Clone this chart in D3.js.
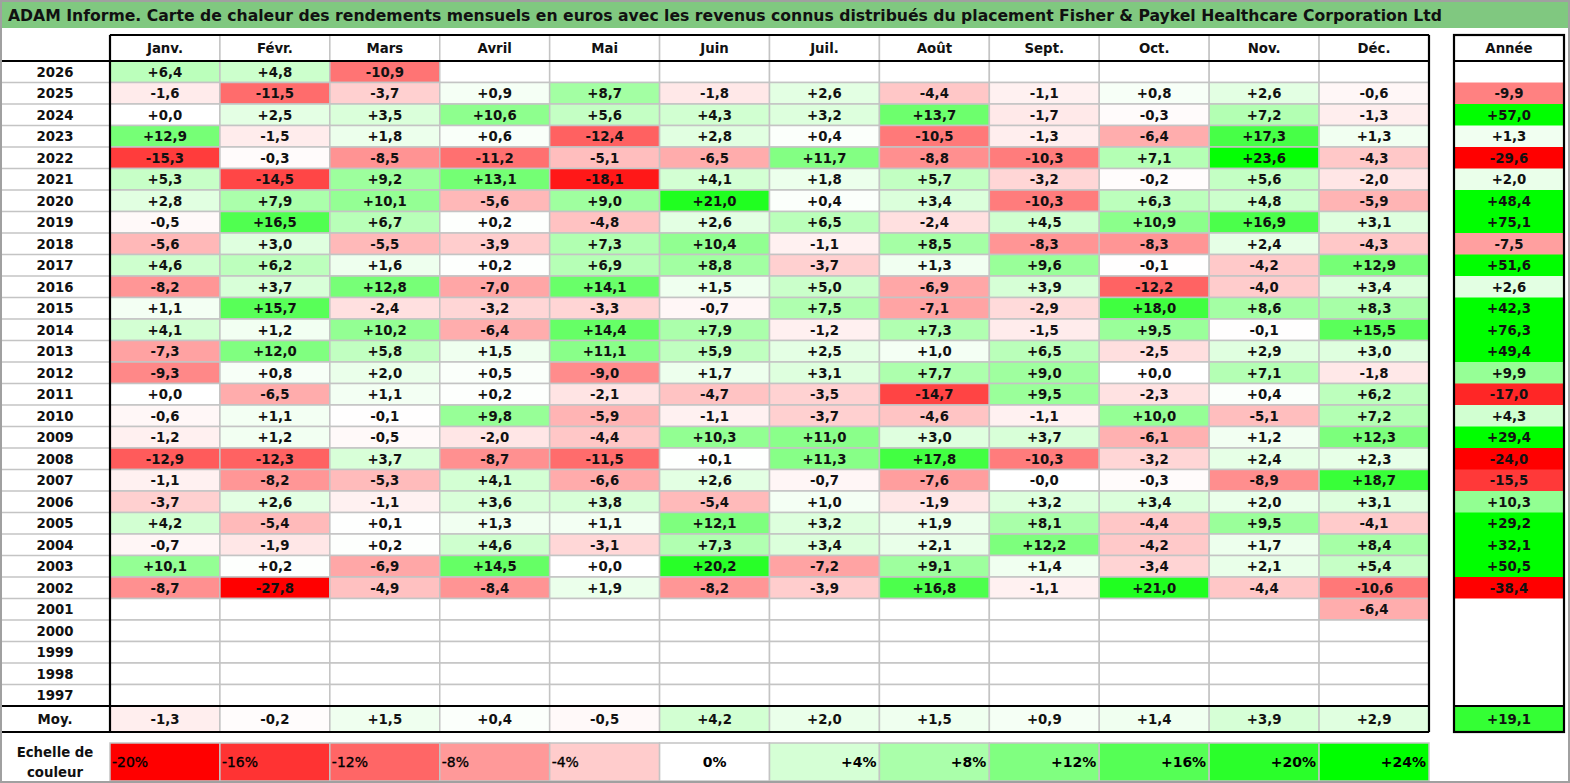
<!DOCTYPE html>
<html><head><meta charset="utf-8">
<script src="https://cdn.jsdelivr.net/npm/d3@7"></script>
<style>body{margin:0;background:#fff}svg{display:block}text{font-family:"DejaVu Sans",Verdana,sans-serif}</style>
</head><body>
<svg id="c" width="1570" height="783"></svg>
<script>
const title = "ADAM Informe. Carte de chaleur des rendements mensuels en euros avec les revenus connus distribués du placement Fisher & Paykel Healthcare Corporation Ltd";
const months = ["Janv.","Févr.","Mars","Avril","Mai","Juin","Juil.","Août","Sept.","Oct.","Nov.","Déc."];
const years = [2026,2025,2024,2023,2022,2021,2020,2019,2018,2017,2016,2015,2014,2013,2012,2011,2010,2009,2008,2007,2006,2005,2004,2003,2002,2001,2000,1999,1998,1997];
const N = null;
const monthly = [
 [6.4,4.8,-10.9,N,N,N,N,N,N,N,N,N],
 [-1.6,-11.5,-3.7,0.9,8.7,-1.8,2.6,-4.4,-1.1,0.8,2.6,-0.6],
 [0.0,2.5,3.5,10.6,5.6,4.3,3.2,13.7,-1.7,-0.3,7.2,-1.3],
 [12.9,-1.5,1.8,0.6,-12.4,2.8,0.4,-10.5,-1.3,-6.4,17.3,1.3],
 [-15.3,-0.3,-8.5,-11.2,-5.1,-6.5,11.7,-8.8,-10.3,7.1,23.6,-4.3],
 [5.3,-14.5,9.2,13.1,-18.1,4.1,1.8,5.7,-3.2,-0.2,5.6,-2.0],
 [2.8,7.9,10.1,-5.6,9.0,21.0,0.4,3.4,-10.3,6.3,4.8,-5.9],
 [-0.5,16.5,6.7,0.2,-4.8,2.6,6.5,-2.4,4.5,10.9,16.9,3.1],
 [-5.6,3.0,-5.5,-3.9,7.3,10.4,-1.1,8.5,-8.3,-8.3,2.4,-4.3],
 [4.6,6.2,1.6,0.2,6.9,8.8,-3.7,1.3,9.6,-0.1,-4.2,12.9],
 [-8.2,3.7,12.8,-7.0,14.1,1.5,5.0,-6.9,3.9,-12.2,-4.0,3.4],
 [1.1,15.7,-2.4,-3.2,-3.3,-0.7,7.5,-7.1,-2.9,18.0,8.6,8.3],
 [4.1,1.2,10.2,-6.4,14.4,7.9,-1.2,7.3,-1.5,9.5,-0.1,15.5],
 [-7.3,12.0,5.8,1.5,11.1,5.9,2.5,1.0,6.5,-2.5,2.9,3.0],
 [-9.3,0.8,2.0,0.5,-9.0,1.7,3.1,7.7,9.0,0.0,7.1,-1.8],
 [0.0,-6.5,1.1,0.2,-2.1,-4.7,-3.5,-14.7,9.5,-2.3,0.4,6.2],
 [-0.6,1.1,-0.1,9.8,-5.9,-1.1,-3.7,-4.6,-1.1,10.0,-5.1,7.2],
 [-1.2,1.2,-0.5,-2.0,-4.4,10.3,11.0,3.0,3.7,-6.1,1.2,12.3],
 [-12.9,-12.3,3.7,-8.7,-11.5,0.1,11.3,17.8,-10.3,-3.2,2.4,2.3],
 [-1.1,-8.2,-5.3,4.1,-6.6,2.6,-0.7,-7.6,-0.0,-0.3,-8.9,18.7],
 [-3.7,2.6,-1.1,3.6,3.8,-5.4,1.0,-1.9,3.2,3.4,2.0,3.1],
 [4.2,-5.4,0.1,1.3,1.1,12.1,3.2,1.9,8.1,-4.4,9.5,-4.1],
 [-0.7,-1.9,0.2,4.6,-3.1,7.3,3.4,2.1,12.2,-4.2,1.7,8.4],
 [10.1,0.2,-6.9,14.5,0.0,20.2,-7.2,9.1,1.4,-3.4,2.1,5.4],
 [-8.7,-27.8,-4.9,-8.4,1.9,-8.2,-3.9,16.8,-1.1,21.0,-4.4,-10.6],
 [N,N,N,N,N,N,N,N,N,N,N,-6.4],
 [N,N,N,N,N,N,N,N,N,N,N,N],
 [N,N,N,N,N,N,N,N,N,N,N,N],
 [N,N,N,N,N,N,N,N,N,N,N,N],
 [N,N,N,N,N,N,N,N,N,N,N,N]
];
const yearly = [N,-9.9,57.0,1.3,-29.6,2.0,48.4,75.1,-7.5,51.6,2.6,42.3,76.3,49.4,9.9,-17.0,4.3,29.4,-24.0,-15.5,10.3,29.2,32.1,50.5,-38.4,N,N,N,N,N];
const averages = [-1.3,-0.2,1.5,0.4,-0.5,4.2,2.0,1.5,0.9,1.4,3.9,2.9];
const averageYear = 19.1;
const scaleSteps = [-20,-16,-12,-8,-4,0,4,8,12,16,20,24];

const svg = d3.select("#c");
const W = 1570, H = 783;

const color = v => {
  if (v == null) return "#ffffff";
  if (v < 0) { const t = Math.min(-v / 20, 1); const c = Math.round(255 * (1 - t)); return d3.rgb(255, c, c).toString(); }
  const t = Math.min(v / 24, 1); const c = Math.round(255 * (1 - t)); return d3.rgb(c, 255, c).toString();
};
const fmt = v => {
  if (v == null) return "";
  const neg = v < 0 || Object.is(v, -0);
  return (neg ? "-" : "+") + Math.abs(v).toFixed(1).replace(".", ",");
};

const x = d3.scaleBand().domain(months).range([110, 1429]);
const y = d3.scaleBand().domain(years).range([61, 706]);
const yearX0 = 1454, yearX1 = 1564;
const headY0 = 35, headY1 = 61, moyY0 = 706, moyY1 = 732, legY0 = 743, legY1 = 781;
const grid = "#c4c4c4";
const FS = 13.3;

svg.append("rect").attr("x", 0).attr("y", 0).attr("width", W).attr("height", H).attr("fill", "#fff");

// title bar
svg.append("rect").attr("x", 1).attr("y", 1).attr("width", W - 2).attr("height", 27).attr("fill", "#80c880");
svg.append("text").attr("x", 8).attr("y", 20.5).attr("font-size", 15.6).attr("font-weight", "bold").attr("fill", "#111")
  .attr("textLength", 1434).attr("lengthAdjust", "spacingAndGlyphs").text(title);

// header
const hdr = svg.append("g");
hdr.selectAll("rect").data(months).join("rect")
  .attr("x", d => x(d)).attr("y", headY0).attr("width", x.bandwidth()).attr("height", headY1 - headY0)
  .attr("fill", "#fff").attr("stroke", grid).attr("stroke-width", 1.5);
hdr.selectAll("text").data(months).join("text")
  .attr("x", d => x(d) + x.bandwidth() / 2).attr("y", 53).attr("text-anchor", "middle")
  .attr("font-size", FS).attr("font-weight", "bold").attr("fill", "#111").text(d => d);
svg.append("rect").attr("x", yearX0).attr("y", headY0).attr("width", yearX1 - yearX0).attr("height", headY1 - headY0).attr("fill", "#fff");
svg.append("text").attr("x", (yearX0 + yearX1) / 2).attr("y", 53).attr("text-anchor", "middle")
  .attr("font-size", FS).attr("font-weight", "bold").attr("fill", "#111").text("Année");

// rows
const cells = [];
years.forEach((yr, i) => months.forEach((m, j) => cells.push({ yr, m, v: monthly[i][j] })));
const body = svg.append("g");
body.selectAll("rect").data(cells).join("rect")
  .attr("x", d => x(d.m)).attr("y", d => y(d.yr)).attr("width", x.bandwidth()).attr("height", y.bandwidth())
  .attr("fill", d => color(d.v)).attr("stroke", grid).attr("stroke-width", 1.5);
body.selectAll("text").data(cells.filter(d => d.v != null)).join("text")
  .attr("x", d => x(d.m) + x.bandwidth() / 2).attr("y", d => y(d.yr) + y.bandwidth() / 2 + 5)
  .attr("text-anchor", "middle").attr("font-size", FS).attr("font-weight", "bold").attr("fill", "#111")
  .text(d => fmt(d.v));

// year labels column
const lab = svg.append("g");
lab.selectAll("line").data(years).join("line")
  .attr("x1", 2).attr("x2", 110).attr("y1", d => y(d) + y.bandwidth()).attr("y2", d => y(d) + y.bandwidth())
  .attr("stroke", grid).attr("stroke-width", 1.5);
lab.selectAll("text").data(years).join("text")
  .attr("x", 55).attr("y", d => y(d) + y.bandwidth() / 2 + 5).attr("text-anchor", "middle")
  .attr("font-size", FS).attr("font-weight", "bold").attr("fill", "#111").text(d => d);

// annual column
const yc = years.map((yr, i) => ({ yr, v: yearly[i] }));
const ann = svg.append("g");
ann.selectAll("rect").data(yc).join("rect")
  .attr("x", yearX0).attr("y", d => y(d.yr)).attr("width", yearX1 - yearX0).attr("height", y.bandwidth() + 0.5)
  .attr("fill", d => color(d.v));
ann.selectAll("text").data(yc.filter(d => d.v != null)).join("text")
  .attr("x", (yearX0 + yearX1) / 2).attr("y", d => y(d.yr) + y.bandwidth() / 2 + 5).attr("text-anchor", "middle")
  .attr("font-size", FS).attr("font-weight", "bold").attr("fill", "#111").text(d => fmt(d.v));

// average row
const avg = svg.append("g");
const ac = months.map((m, j) => ({ m, v: averages[j] }));
avg.selectAll("rect").data(ac).join("rect")
  .attr("x", d => x(d.m)).attr("y", moyY0).attr("width", x.bandwidth()).attr("height", moyY1 - moyY0)
  .attr("fill", d => color(d.v)).attr("stroke", grid).attr("stroke-width", 1.5);
avg.selectAll("text").data(ac).join("text")
  .attr("x", d => x(d.m) + x.bandwidth() / 2).attr("y", (moyY0 + moyY1) / 2 + 5).attr("text-anchor", "middle")
  .attr("font-size", FS).attr("font-weight", "bold").attr("fill", "#111").text(d => fmt(d.v));
svg.append("text").attr("x", 55).attr("y", (moyY0 + moyY1) / 2 + 5).attr("text-anchor", "middle")
  .attr("font-size", FS).attr("font-weight", "bold").attr("fill", "#111").text("Moy.");
svg.append("rect").attr("x", yearX0).attr("y", moyY0).attr("width", yearX1 - yearX0).attr("height", moyY1 - moyY0).attr("fill", color(averageYear));
svg.append("text").attr("x", (yearX0 + yearX1) / 2).attr("y", (moyY0 + moyY1) / 2 + 5).attr("text-anchor", "middle")
  .attr("font-size", FS).attr("font-weight", "bold").attr("fill", "#111").text(fmt(averageYear));

// thick borders
const thick = (x1, y1, x2, y2) => svg.append("line").attr("x1", x1).attr("y1", y1).attr("x2", x2).attr("y2", y2).attr("stroke", "#000").attr("stroke-width", 2.2);
thick(110, headY0, 1429, headY0);
thick(110, headY0, 110, moyY1);
thick(1429, headY0, 1429, moyY1);
thick(1, headY1, 1429, headY1);
thick(1, moyY0, 1429, moyY0);
thick(1, moyY1, 1429, moyY1);
svg.append("rect").attr("x", yearX0).attr("y", headY0).attr("width", yearX1 - yearX0).attr("height", moyY1 - headY0)
  .attr("fill", "none").attr("stroke", "#000").attr("stroke-width", 2.2);
thick(yearX0, headY1, yearX1, headY1);
thick(yearX0, moyY0, yearX1, moyY0);

// color scale legend
const lx = d3.scaleBand().domain(scaleSteps).range([110, 1429]);
const leg = svg.append("g");
leg.selectAll("rect").data(scaleSteps).join("rect")
  .attr("x", d => lx(d)).attr("y", legY0).attr("width", lx.bandwidth()).attr("height", legY1 - legY0)
  .attr("fill", d => color(d)).attr("stroke", grid).attr("stroke-width", 1.5);
leg.selectAll("text").data(scaleSteps).join("text")
  .attr("x", d => d < 0 ? lx(d) + 2 : d === 0 ? lx(d) + lx.bandwidth() / 2 : lx(d) + lx.bandwidth() - 3)
  .attr("y", (legY0 + legY1) / 2 + 5)
  .attr("text-anchor", d => d < 0 ? "start" : d === 0 ? "middle" : "end")
  .attr("font-size", 14).attr("font-weight", d => d < 0 ? "normal" : "bold").attr("fill", "#000")
  .attr("stroke", d => d < 0 ? "#000" : "none").attr("stroke-width", 0.35)
  .text(d => (d > 0 ? "+" : "") + d + "%");
svg.append("text").attr("x", 55).attr("y", 757).attr("text-anchor", "middle")
  .attr("font-size", FS).attr("font-weight", "bold").attr("fill", "#111").text("Echelle de");
svg.append("text").attr("x", 55).attr("y", 777).attr("text-anchor", "middle")
  .attr("font-size", FS).attr("font-weight", "bold").attr("fill", "#111").text("couleur");

// outer border
svg.append("rect").attr("x", 1).attr("y", 1).attr("width", W - 2).attr("height", H - 2)
  .attr("fill", "none").attr("stroke", "#a0a0a0").attr("stroke-width", 2);
</script>
</body></html>
